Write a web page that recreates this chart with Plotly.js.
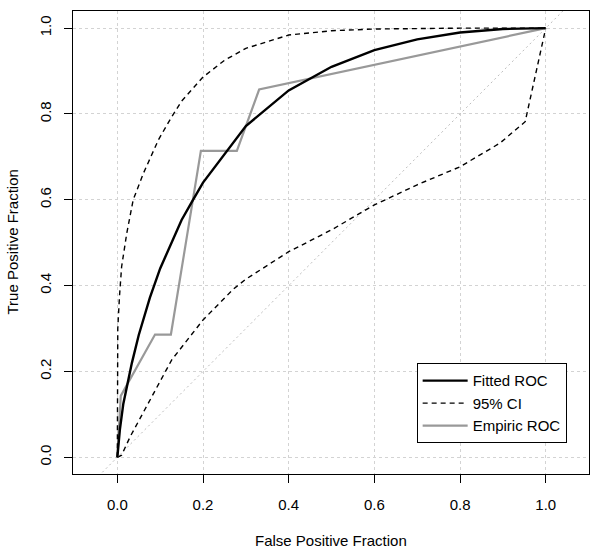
<!DOCTYPE html>
<html>
<head>
<meta charset="utf-8">
<script src="https://cdn.plot.ly/plotly-3.0.1.min.js"></script>
<style>html,body{margin:0;padding:0;background:#fff;}#chart{width:600px;height:550px;}</style>
</head>
<body>
<div id="chart"></div>
<script>
// Fitted (binormal) ROC curve
const fittedFPF = [0, 0.006, 0.014, 0.022, 0.034, 0.05, 0.076, 0.1, 0.15, 0.174, 0.2, 0.3, 0.4, 0.5, 0.6, 0.7, 0.8, 0.9, 1];
const fittedTPF = [0, 0.065, 0.125, 0.165, 0.22, 0.285, 0.372, 0.44, 0.553, 0.595, 0.64, 0.772, 0.855, 0.91, 0.949, 0.974, 0.99, 0.998, 1];

// 95% CI, upper band
const upperFPF = [0, 0.001, 0.005, 0.01, 0.022, 0.037, 0.061, 0.096, 0.125, 0.15, 0.2, 0.25, 0.3, 0.4, 0.5, 0.6, 0.8, 1];
const upperTPF = [0, 0.3, 0.375, 0.444, 0.522, 0.6, 0.662, 0.74, 0.79, 0.83, 0.886, 0.925, 0.953, 0.984, 0.994, 0.998, 1, 1];

// 95% CI, lower band
const lowerFPF = [0, 0.01, 0.03, 0.076, 0.127, 0.2, 0.271, 0.3, 0.4, 0.5, 0.6, 0.7, 0.8, 0.893, 0.952, 1];
const lowerTPF = [0, 0.005, 0.048, 0.134, 0.227, 0.32, 0.392, 0.415, 0.479, 0.53, 0.588, 0.635, 0.677, 0.732, 0.782, 1];

// Empirical ROC
const empFPF = [0, 0.008, 0.088, 0.125, 0.195, 0.279, 0.331, 1];
const empTPF = [0, 0.143, 0.286, 0.286, 0.714, 0.714, 0.857, 1];

// Chance diagonal
const diagX = [-0.2, 1.2];
const diagY = [-0.2, 1.2];

const tickVals = [0, 0.2, 0.4, 0.6, 0.8, 1.0];
const tickText = ["0.0", "0.2", "0.4", "0.6", "0.8", "1.0"];

const FONT = "Liberation Sans, Arial, Helvetica, sans-serif";
const FS = 15;

const traces = [
  {x: diagX, y: diagY, mode: "lines", line: {color: "#bdbdbd", width: 1, dash: "2px,3px"}, showlegend: false, hoverinfo: "skip"},
  {x: lowerFPF, y: lowerTPF, mode: "lines", line: {color: "#000", width: 1.4, dash: "5px,4px"}, showlegend: false},
  {x: empFPF, y: empTPF, mode: "lines", name: "Empiric ROC", line: {color: "#999999", width: 2.2}, legendrank: 3},
  {x: upperFPF, y: upperTPF, mode: "lines", name: "95% CI", line: {color: "#000", width: 1.4, dash: "5px,4px"}, legendrank: 2},
  {x: fittedFPF, y: fittedTPF, mode: "lines", name: "Fitted ROC", line: {color: "#000", width: 2.4}, legendrank: 1}
];

const axisCommon = {
  tickvals: tickVals, ticktext: tickText,
  ticks: "outside", ticklen: 8, tickwidth: 1, tickcolor: "#000",
  showline: true, linecolor: "#000", linewidth: 1, mirror: true,
  showgrid: true, gridcolor: "#d3d3d3", griddash: "dot", gridwidth: 1,
  zeroline: false, tickfont: {family: FONT, size: FS, color: "#000"},
  automargin: false
};

const layout = {
  width: 600, height: 550,
  margin: {l: 73, r: 11, t: 11, b: 76},
  paper_bgcolor: "#fff", plot_bgcolor: "#fff",
  font: {family: FONT, size: FS, color: "#000"},
  xaxis: Object.assign({}, axisCommon, {range: [-0.1035, 1.101], ticklabelstandoff: 9}),
  yaxis: Object.assign({}, axisCommon, {range: [-0.039, 1.04], tickangle: -90, ticklabelstandoff: 7}),
  legend: {
    x: 0.666, y: 0.239, xanchor: "left", yanchor: "top",
    bgcolor: "#fff", bordercolor: "#000", borderwidth: 1,
    font: {family: FONT, size: FS, color: "#000"},
    tracegroupgap: 0, itemwidth: 45
  },
  annotations: [
    {text: "False Positive Fraction", xref: "paper", yref: "paper", x: 0.5, y: 0, yshift: -66,
     xanchor: "center", yanchor: "middle", showarrow: false, font: {family: FONT, size: FS, color: "#000"}},
    {text: "True Positive Fraction", xref: "paper", yref: "paper", x: 0, y: 0.5, xshift: -61,
     xanchor: "center", yanchor: "middle", textangle: -90, showarrow: false, font: {family: FONT, size: FS, color: "#000"}}
  ],
  showlegend: true
};

Plotly.newPlot("chart", traces, layout, {displayModeBar: false, staticPlot: true});
</script>
</body>
</html>
